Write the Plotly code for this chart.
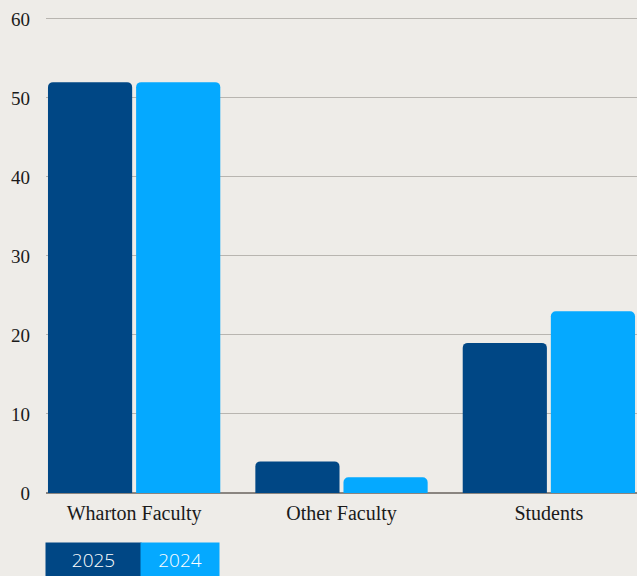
import plotly.graph_objects as go

categories = ["Wharton Faculty", "Other Faculty", "Students"]
values_2025 = [52, 4, 19]
values_2024 = [52, 2, 23]
series_names = ["2025", "2024"]
tick_vals = [0, 10, 20, 30, 40, 50, 60]

BG = "#EEECE8"
DARK = "#004785"
LIGHT = "#05A9FF"

fig = go.Figure()
fig.add_trace(go.Bar(x=categories, y=values_2025, name=series_names[0],
                     marker=dict(color=DARK, line=dict(width=0))))
fig.add_trace(go.Bar(x=categories, y=values_2024, name=series_names[1],
                     marker=dict(color=LIGHT, line=dict(width=0))))

W, H = 637, 576
ml, mr, mt, mb = 46, 0, 15, 83
pw, ph = W - ml - mr, H - mt - mb

def px_x(x):
    return (x - ml) / pw

def px_y(y):
    return (H - mb - y) / ph

annotations = []
for name, color, x0, x1 in [(series_names[0], DARK, 45, 140), (series_names[1], LIGHT, 140, 218)]:
    annotations.append(dict(
        text=name, xref="paper", yref="paper",
        x=px_x(x0), y=px_y(542), xanchor="left", yanchor="top",
        width=x1 - x0, height=34, bgcolor=color, borderpad=0,
        showarrow=False, align="center", valign="middle",
        font=dict(family="Open Sans", size=19, color="white", weight=300),
    ))

fig.update_layout(
    width=W, height=H,
    margin=dict(l=ml, r=mr, t=mt, b=mb, pad=0),
    paper_bgcolor=BG, plot_bgcolor=BG,
    barmode="group", bargap=0.15, bargroupgap=0.045,
    barcornerradius=5,
    showlegend=False,
    font=dict(family="Liberation Serif", size=18, color="#1a1a1a"),
    xaxis=dict(range=[-0.425, 2.425], showgrid=False, showline=False,
               ticks="", ticklabelstandoff=6,
               tickfont=dict(size=20, color="#1a1a1a")),
    yaxis=dict(range=[0, 60.5], tickvals=tick_vals, showgrid=True,
               gridcolor="#B8B5B0", gridwidth=1, zeroline=True,
               zerolinecolor="#8A8580", zerolinewidth=2, showline=False,
               ticks="", ticklabelstandoff=15,
               tickfont=dict(size=19, color="#1a1a1a")),
    annotations=annotations,
)

fig.write_html(
    "out.html",
    config={"displayModeBar": False},
    post_script="document.body.style.margin='0';document.body.style.overflow='hidden';document.body.style.background='#EEECE8';",
)
